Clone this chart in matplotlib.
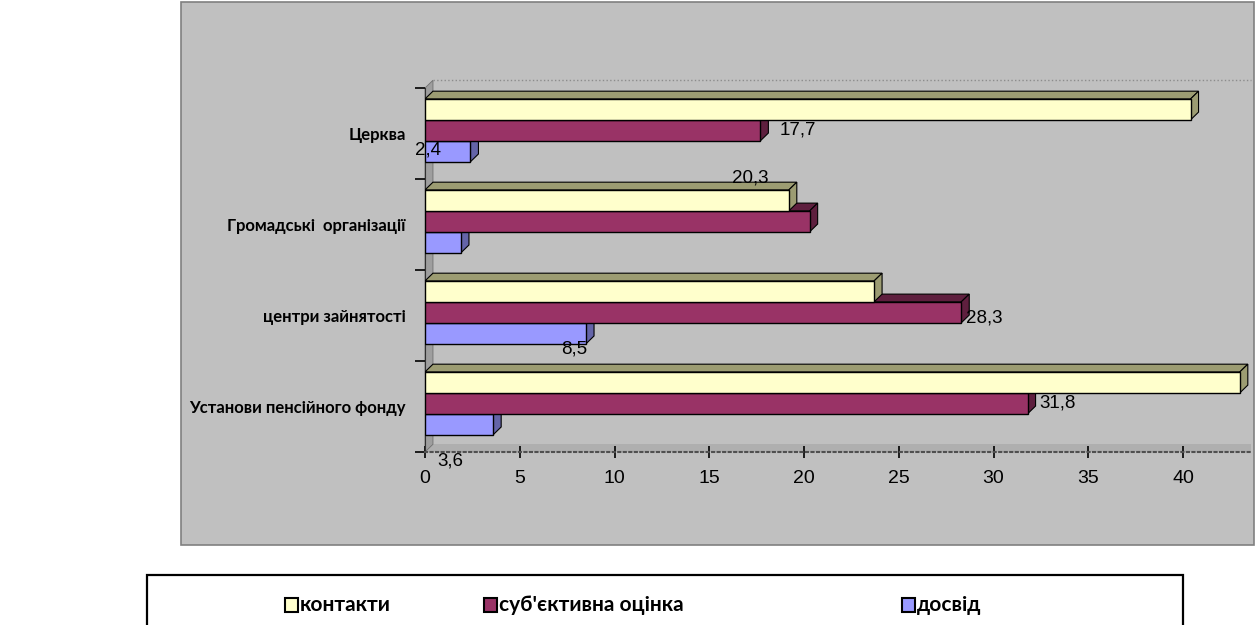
import matplotlib
matplotlib.use('Agg')
import matplotlib.pyplot as plt
from matplotlib.patches import Polygon, Rectangle

categories = ['Установи пенсійного фонду', 'центри зайнятості',
              'Громадські  організації', 'Церква']
series_names = ['контакти', "суб'єктивна оцінка", 'досвід']
kontakty = [43.0, 23.7, 19.2, 40.4]
subjective = [31.8, 28.3, 20.3, 17.7]
dosvid = [3.6, 8.5, 1.9, 2.4]
x_ticks = [0, 5, 10, 15, 20, 25, 30, 35, 40]

# data labels that are visible on the chart: (series, category)
shown_labels = [(1, 3), (2, 3), (1, 2), (1, 1), (2, 1), (1, 0), (2, 0)]
# where each label sits relative to its bar end (pixels) and alignment
label_offsets = [(19, 0, 'left'), (-42, 1, 'center'), (-59, 43, 'center'),
                 (5, -6, 'left'), (-12, -16, 'center'), (12, 0, 'left'),
                 (-43, -37, 'center')]

series = [kontakty, subjective, dosvid]
front_colors = ['#FFFFCC', '#993366', '#9999FF']
dark_colors = ['#9C9C72', '#5E1F3E', '#6464A8']

W, H = 1255, 625


def fx(x):
    return x / W


def fy(y):
    return 1 - y / H


fig = plt.figure(figsize=(W / 100, H / 100), dpi=100)
fig.patch.set_facecolor('white')

# grey chart area
fig.patches.append(Rectangle((fx(181), fy(545)), (1254 - 181) / W, (545 - 2) / H,
                             transform=fig.transFigure, facecolor='#C0C0C0',
                             edgecolor='#808080', lw=1.2, zorder=-5))

ax = fig.add_axes([fx(425), fy(452), (1251 - 425) / W, (452 - 88) / H])
ax.set_facecolor('#C0C0C0')
xmax = (1251 - 425) / 18.95
ax.set_xlim(0, xmax)
ax.set_ylim(-0.5, 3.5)

bar_h = 0.23
bar_off = [0.265, 0.035, -0.195]
dx, dy = 0.42, 0.085

# left wall and floor of the 3d box
ax.add_patch(Polygon([(0, -0.5), (dx, -0.5 + dy), (dx, 3.5 + dy), (0, 3.5)],
                     closed=True, facecolor='#9E9E9E', edgecolor='#707070',
                     lw=0.6, zorder=1, clip_on=False))
ax.add_patch(Polygon([(0, -0.5), (xmax, -0.5), (xmax, -0.5 + dy), (dx, -0.5 + dy)],
                     closed=True, facecolor='#AFAFAF', edgecolor='none',
                     zorder=0.9, clip_on=False))
ax.plot([dx, xmax], [3.5 + dy, 3.5 + dy], color='#8C8C8C', ls=':', lw=1,
        clip_on=False, zorder=1)

for s, vals in enumerate(series):
    for c, v in enumerate(vals):
        yc = c + bar_off[s]
        y0, y1 = yc - bar_h / 2, yc + bar_h / 2
        z = 3 + (2 - s) * 0.5
        ax.barh(yc, v, height=bar_h, color=front_colors[s], edgecolor='black',
                lw=1, zorder=z + 0.2)
        top = [(0, y1), (v, y1), (v + dx, y1 + dy), (dx, y1 + dy)]
        side = [(v, y0), (v + dx, y0 + dy), (v + dx, y1 + dy), (v, y1)]
        ax.add_patch(Polygon(top, closed=True, facecolor=dark_colors[s],
                             edgecolor='black', lw=0.8, zorder=z))
        ax.add_patch(Polygon(side, closed=True, facecolor=dark_colors[s],
                             edgecolor='black', lw=0.8, zorder=z + 0.1))

for (s, c), (ox, oy, ha) in zip(shown_labels, label_offsets):
    v = series[s][c]
    ax.annotate(f'{v:.1f}'.replace('.', ','), (v, c + bar_off[s]),
                xytext=(ox, oy), textcoords='offset pixels', ha=ha, va='center',
                fontsize=13.5, family='Liberation Sans', zorder=10,
                annotation_clip=False)

for side in ['top', 'right']:
    ax.spines[side].set_visible(False)
ax.spines['left'].set_color('#303030')
ax.spines['bottom'].set_color('#505050')
ax.spines['bottom'].set_linestyle(':')
ax.spines['bottom'].set_linewidth(1.5)

ax.set_xticks(x_ticks)
ax.set_xticklabels([str(t) for t in x_ticks], fontsize=14, family='Liberation Sans')
ax.tick_params(axis='x', direction='inout', length=8, width=1.2, pad=9)

ax.set_yticks([-0.5, 0.5, 1.5, 2.5, 3.5])
ax.set_yticklabels([])
ax.tick_params(axis='y', which='major', direction='out', length=7, width=1.2)
ax.set_yticks(range(len(categories)), minor=True)
ax.set_yticklabels(categories, minor=True, fontsize=12, fontweight='bold',
                   family='Lato')
ax.tick_params(axis='y', which='minor', length=0, pad=14)

# legend box
fig.patches.append(Rectangle((fx(147), fy(640)), (1183 - 147) / W, (640 - 575) / H,
                             transform=fig.transFigure, facecolor='white',
                             edgecolor='black', lw=1.6, zorder=-5))
legend_x = [285, 484, 902]
for name, col, lx in zip(series_names, front_colors, legend_x):
    fig.patches.append(Rectangle((fx(lx), fy(612)), 13 / W, 14 / H,
                                 transform=fig.transFigure, facecolor=col,
                                 edgecolor='black', lw=1.5, zorder=2))
    fig.text(fx(lx + 15), fy(605), name, fontsize=15, fontweight='bold',
             family='Lato', va='center', ha='left')

fig.savefig('out.png', dpi=100)
